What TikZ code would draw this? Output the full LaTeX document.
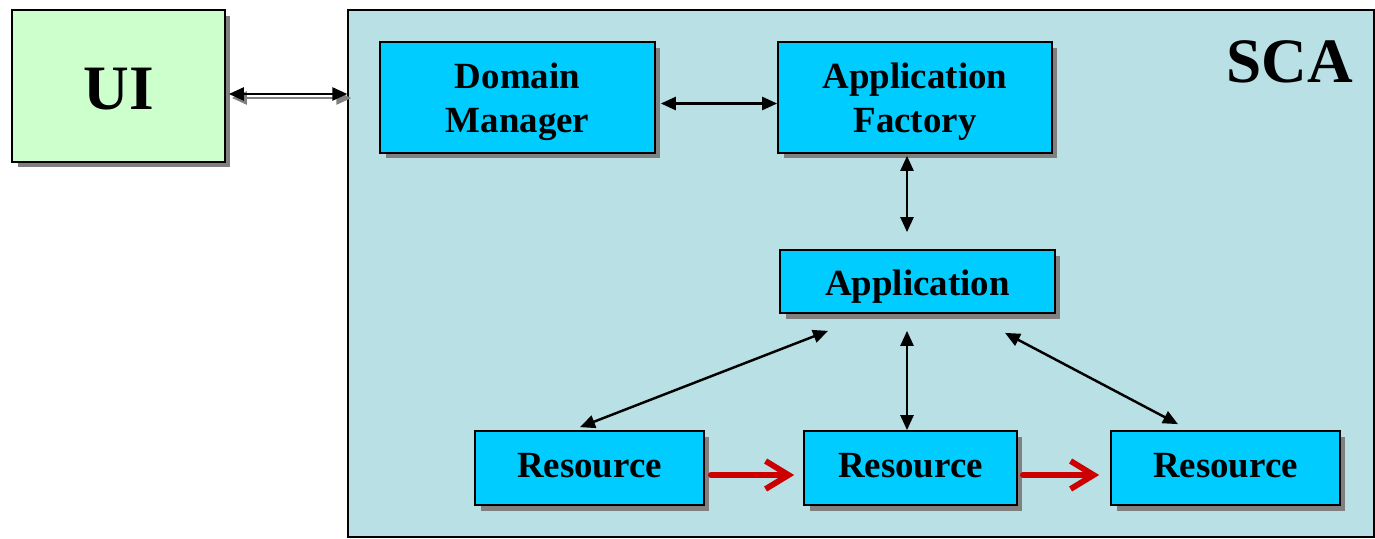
\documentclass[tikz,border=0pt]{standalone}
\usepackage{fontspec}
\setmainfont{Liberation Serif}
\usetikzlibrary{arrows.meta, shadows, calc}

\definecolor{boxblue}{HTML}{00CCFF}
\definecolor{scabg}{HTML}{B9E0E4}
\definecolor{uigreen}{HTML}{CCFFCC}
\definecolor{flowred}{HTML}{CC0000}

\begin{document}
\begin{tikzpicture}[x=0.02cm, y=-0.02cm,
  shade box/.style={drop shadow={shadow xshift=0.11cm, shadow yshift=-0.11cm, fill=gray, opacity=1}},
  box/.style={draw, line width=1pt, fill=boxblue, inner sep=0pt, align=center, shade box,
    text height=40.2pt, text depth=0pt, font=\fontsize{21}{25.5}\selectfont\bfseries},
  one line/.style={text height=#1, text depth=0pt},
  link/.style={line width=1.4pt, {Triangle[length=0.3cm,width=0.26cm]}-{Triangle[length=0.3cm,width=0.26cm]}},
  flow/.style={line width=3.3pt, draw=flowred, line cap=round, line join=round,
    -{Straight Barb[length=0.46cm,width=0.56cm]}}]
\useasboundingbox (0,0) rectangle (1375,538);

% outer frames
\node[draw, line width=0.8pt, fill=scabg, inner sep=0pt, minimum width=20.52cm, minimum height=10.54cm] (sca) at (861,273.5) {};
\node[font=\fontsize{36}{40}\selectfont\bfseries] (scalabel) at (1290,62) {SCA};
\node[draw, line width=1pt, fill=uigreen, inner sep=0pt, shade box, minimum width=4.26cm, minimum height=3.04cm,
  one line=27pt, font=\fontsize{36}{40}\selectfont\bfseries] (ui) at (118.5,86) {UI};

% boxes
\node[box, minimum width=5.5cm, minimum height=2.22cm] (dm) at (517.5,97.5) {Domain\\Manager};
\node[box, minimum width=5.48cm, minimum height=2.22cm] (af) at (915,97.5) {Application\\Factory};
\node[box, one line=16.4pt, minimum width=5.5cm, minimum height=1.26cm] (app) at (917.5,281.5) {Application};
\node[box, one line=11pt, minimum width=4.58cm, minimum height=1.48cm] (r1) at (589.5,468) {Resource};
\node[box, one line=11pt, minimum width=4.26cm, minimum height=1.48cm] (r2) at (910.5,468) {Resource};
\node[box, one line=11pt, minimum width=4.58cm, minimum height=1.48cm] (r3) at (1225.5,468) {Resource};

% links
\draw[link, gray] ($(ui.east)+(6,12)$) -- ($(ui.east -| sca.west)+(4,12)$);
\draw[link] ($(ui.east)+(3,8)$) -- ($(ui.east -| sca.west)+(0,8)$);
\draw[link] ($(dm.east)+(5,6)$) -- ($(af.west)+(0,6)$);
\draw[link] ($(af.south)+(-8,2)$) -- ($(app.north)+(-10.5,-17)$);
\draw[link] ($(app.south)+(-10.5,17)$) -- ($(r2.north)+(-3.5,0)$);
\draw[link] ($(app.south)+(-89.5,17)$) -- ($(r1.north)+(-9.5,-3)$);
\draw[link] ($(app.south)+(87.5,19)$) -- ($(r3.north)+(-47.5,-6)$);

\draw[flow] ($(r1.east)+(6,7)$) -- ($(r2.west)+(-9,7)$);
\draw[flow] ($(r2.east)+(5,7)$) -- ($(r3.west)+(-11,7)$);
\end{tikzpicture}
\end{document}
